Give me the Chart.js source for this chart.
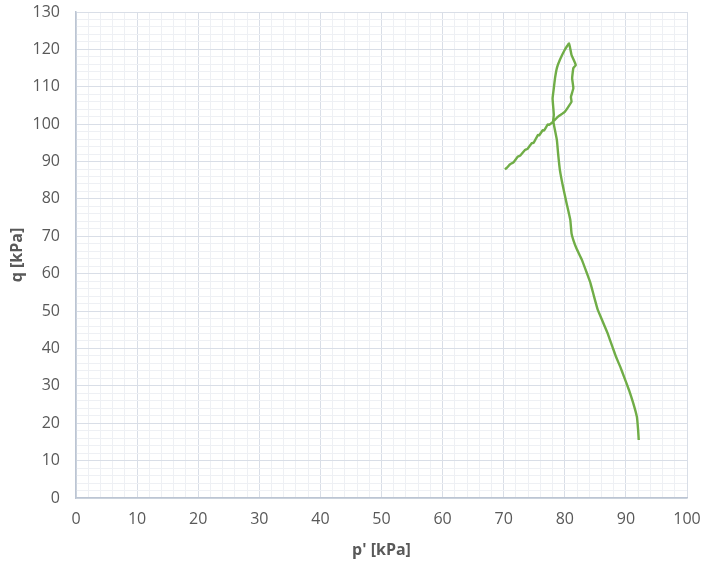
<!DOCTYPE html>
<html>
<head>
<meta charset="utf-8">
<script src="https://cdn.jsdelivr.net/npm/chart.js@4.4.1/dist/chart.umd.min.js"></script>
<style>
html,body{margin:0;padding:0;background:#fff;}
#wrap{width:702px;height:565px;position:relative;}
</style>
</head>
<body>
<div id="wrap"><canvas id="c" width="702" height="565"></canvas></div>
<script>
// Stress path p' [kPa] vs q [kPa]
const pValues = [92.1, 92.0, 91.8, 91.2, 90.5, 89.7, 89.1, 88.4, 87.8, 87.0, 86.1, 85.4, 84.8, 84.2, 83.6, 82.8, 81.9, 81.4, 81.1, 80.9, 80.3, 79.7, 79.2, 78.9, 78.7, 78.1,
  78.2, 78.1, 78.0, 78.2, 78.4, 78.7, 79.2, 80.0, 80.7,
  81.1, 81.8, 81.4, 81.2, 81.4, 81.0, 81.1, 80.6, 80.0, 78.9,
  78.1, 77.4, 77.2, 76.6, 76.4, 75.8, 75.6, 74.9, 74.6, 73.9, 73.5, 72.7, 72.3, 71.6, 71.0, 70.5, 70.2];
const qValues = [15.5, 18.2, 21.7, 25.4, 28.9, 32.4, 35.0, 37.7, 40.4, 44.1, 47.6, 50.3, 53.8, 57.5, 60.2, 63.7, 66.8, 69.0, 70.8, 74.4, 78.8, 83.3, 87.7, 92.2, 95.8, 100.9,
  102.5, 104.7, 106.9, 109.6, 112.3, 115.0, 117.2, 119.9, 121.6,
  118.5, 115.8, 115.0, 112.3, 109.6, 107.3, 106.0, 104.7, 103.3, 102.0,
  100.7, 99.8, 99.9, 98.3, 98.4, 97.0, 97.1, 95.0, 94.9, 93.4, 93.1, 91.6, 91.3, 89.8, 89.2, 88.3, 87.9];
const xTicks = [0, 10, 20, 30, 40, 50, 60, 70, 80, 90, 100];
const yTicks = [0, 10, 20, 30, 40, 50, 60, 70, 80, 90, 100, 110, 120, 130];
const xTitle = "p' [kPa]";
const yTitle = "q [kPa]";

const points = pValues.map((p, i) => ({x: p, y: qValues[i]}));
const majorGrid = '#d9dee7';
const minorGrid = '#eef0f4';
const textColor = '#595959';

new Chart(document.getElementById('c'), {
  type: 'scatter',
  data: {
    datasets: [{
      data: points,
      showLine: true,
      borderColor: '#70ad47',
      borderWidth: 2.4,
      pointRadius: 0,
      tension: 0.1,
      fill: false
    }]
  },
  options: {
    responsive: false,
    animation: false,
    layout: {padding: {top: 12, right: 15, left: 0, bottom: 0}},
    plugins: {legend: {display: false}, tooltip: {enabled: false}},
    scales: {
      x: {
        type: 'linear',
        min: xTicks[0], max: xTicks[xTicks.length - 1],
        afterFit: s => { s.height = 67; s.paddingLeft = 0; s.paddingRight = 0; },
        border: {color: '#bcc5d3', width: 1.5},
        grid: {
          drawTicks: false,
          color: ctx => (ctx.tick && ctx.tick.value % 10 === 0) ? majorGrid : minorGrid,
          lineWidth: 1
        },
        ticks: {
          stepSize: 2, autoSkip: false, maxRotation: 0, padding: 12,
          color: textColor, font: {family: 'Open Sans', size: 16},
          callback: v => xTicks.includes(v) ? String(v) : ''
        },
        title: {
          display: true, text: xTitle, color: textColor,
          font: {family: 'Open Sans', size: 16, weight: 'bold'},
          padding: {top: 0, bottom: 5}
        }
      },
      y: {
        type: 'linear',
        min: yTicks[0], max: yTicks[yTicks.length - 1],
        afterFit: s => { s.width = 76; s.paddingTop = 0; s.paddingBottom = 0; },
        border: {color: '#bcc5d3', width: 1.5},
        grid: {
          drawTicks: false,
          color: ctx => (ctx.tick && ctx.tick.value % 10 === 0) ? majorGrid : minorGrid,
          lineWidth: 1
        },
        ticks: {
          stepSize: 2, autoSkip: false, padding: 16,
          color: textColor, font: {family: 'Open Sans', size: 16},
          callback: v => yTicks.includes(v) ? String(v) : ''
        },
        title: {
          display: true, text: yTitle, color: textColor,
          font: {family: 'Open Sans', size: 16, weight: 'bold'},
          padding: {top: 8, bottom: 0}
        }
      }
    }
  }
});
</script>
</body>
</html>
